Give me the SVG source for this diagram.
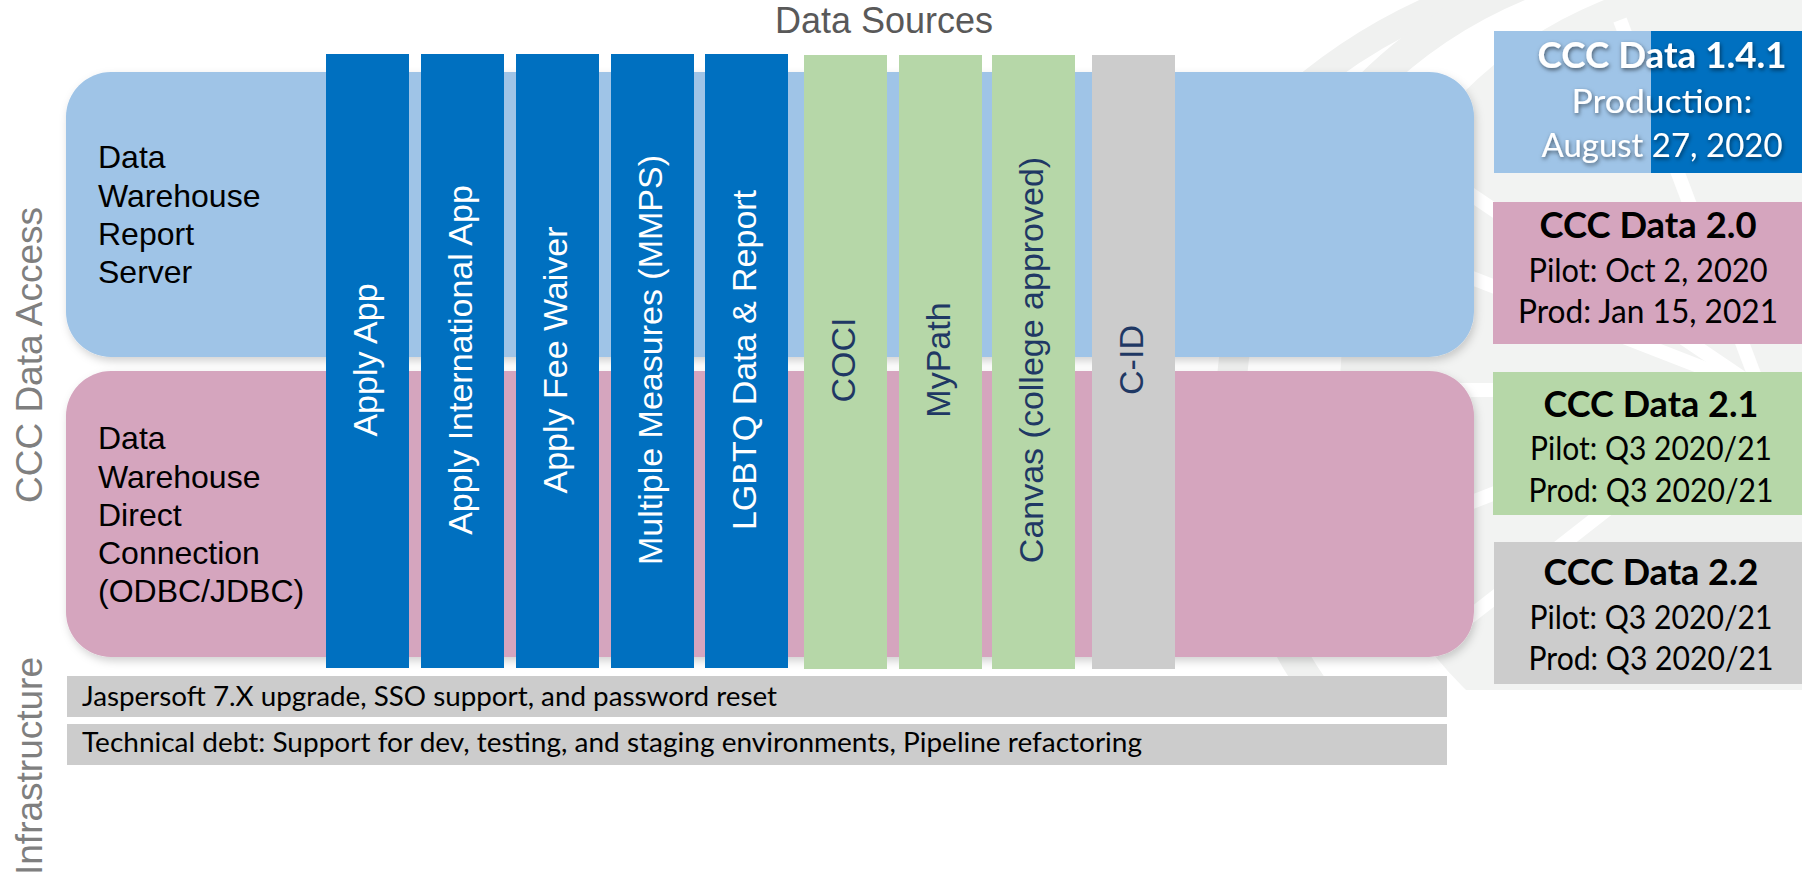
<svg xmlns="http://www.w3.org/2000/svg" width="1802" height="877" viewBox="0 0 1802 877">
<defs>
<style>
.lbl{font-family:"Liberation Sans",Arial,sans-serif;font-size:32px;fill:#000}
.side{font-family:"Liberation Sans",Arial,sans-serif;font-size:37px;fill:#7F7F7F}
.vt{font-family:"Liberation Sans",Arial,sans-serif;font-size:34px;text-anchor:middle}
.vw{fill:#FFFFFF}
.vn{fill:#1F3864}
.blue{fill:#0070C0}
.green{fill:#B6D7A8}
.grey{fill:#CCCCCC}
.infra{font-family:"Lato","Noto Sans",sans-serif;font-size:27px;fill:#000}
.rt{font-family:"Lato","Noto Sans",sans-serif;text-anchor:middle}
.rtitle{font-size:37px;font-weight:bold}
.rline{font-size:32px}
.wm{fill:none;stroke:#F0F1F0}
</style>
<clipPath id="wmclip"><rect x="1140" y="0" width="662" height="690"/></clipPath>
<filter id="sh" x="-5%" y="-10%" width="110%" height="125%">
<feDropShadow dx="2" dy="4" stdDeviation="4" flood-color="#000" flood-opacity="0.18"/>
</filter>
<filter id="tsh" x="-10%" y="-30%" width="120%" height="160%">
<feDropShadow dx="1" dy="2" stdDeviation="2" flood-color="#000" flood-opacity="0.55"/>
</filter>
</defs>
<rect width="1802" height="877" fill="#FFFFFF"/>
<g id="watermark" clip-path="url(#wmclip)">
<circle class="wm" cx="1660" cy="520" r="560" stroke-width="26"/>
<circle class="wm" cx="1700" cy="420" r="470" stroke-width="30"/>
<circle cx="1760" cy="390" r="420" fill="#F2F3F2"/>
<g stroke="#FFFFFF" stroke-width="14" fill="none">
<path d="M1760 390 L1400 250"/>
<path d="M1760 390 L1420 160"/>
<path d="M1760 390 L1380 390"/>
<path d="M1760 390 L1400 530"/>
<path d="M1760 390 L1440 640"/>
<path d="M1760 390 L1620 20"/>
</g>
</g>
<text id="title" x="884" y="33" font-family="Liberation Sans, Arial, sans-serif" font-size="36" fill="#595959" text-anchor="middle">Data Sources</text>
<text id="side-access" class="side" text-anchor="middle" transform="translate(42,355) rotate(-90)">CCC Data Access</text>
<text id="side-infra" class="side" text-anchor="middle" transform="translate(42,766) rotate(-90)">Infrastructure</text>
<g id="report-server">
<rect x="66" y="72" width="1408" height="285" rx="45" ry="45" fill="#9FC4E7" filter="url(#sh)"/>
<text class="lbl" x="98" y="168">Data</text>
<text class="lbl" x="98" y="207">Warehouse</text>
<text class="lbl" x="98" y="245">Report</text>
<text class="lbl" x="98" y="283">Server</text>
</g>
<g id="direct-connection">
<rect x="66" y="371" width="1408" height="286" rx="45" ry="45" fill="#D5A5BE" filter="url(#sh)"/>
<text class="lbl" x="98" y="449">Data</text>
<text class="lbl" x="98" y="488">Warehouse</text>
<text class="lbl" x="98" y="526">Direct</text>
<text class="lbl" x="98" y="564">Connection</text>
<text class="lbl" x="98" y="602">(ODBC/JDBC)</text>
</g>
<g id="apply-app"><rect class="blue" x="326" y="54" width="83" height="614"/><text class="vt vw" transform="translate(377,360) rotate(-90)">Apply App</text></g>
<g id="apply-intl"><rect class="blue" x="421" y="54" width="83" height="614"/><text class="vt vw" transform="translate(472,360) rotate(-90)">Apply International App</text></g>
<g id="apply-fee"><rect class="blue" x="516" y="54" width="83" height="614"/><text class="vt vw" transform="translate(567,360) rotate(-90)">Apply Fee Waiver</text></g>
<g id="mmps"><rect class="blue" x="611" y="54" width="83" height="614"/><text class="vt vw" transform="translate(662,360) rotate(-90)">Multiple Measures (MMPS)</text></g>
<g id="lgbtq"><rect class="blue" x="705" y="54" width="83" height="614"/><text class="vt vw" transform="translate(756,360) rotate(-90)">LGBTQ Data &amp; Report</text></g>
<g id="coci"><rect class="green" x="804" y="55" width="83" height="614"/><text class="vt vn" transform="translate(855,360) rotate(-90)">COCI</text></g>
<g id="mypath"><rect class="green" x="899" y="55" width="83" height="614"/><text class="vt vn" transform="translate(950,360) rotate(-90)">MyPath</text></g>
<g id="canvas"><rect class="green" x="992" y="55" width="83" height="614"/><text class="vt vn" transform="translate(1043,360) rotate(-90)">Canvas (college approved)</text></g>
<g id="cid"><rect class="grey" x="1092" y="55" width="83" height="614"/><text class="vt vn" transform="translate(1143,360) rotate(-90)">C-ID</text></g>
<g id="infra-1"><rect class="grey" x="67" y="676" width="1380" height="41"/><text class="infra" x="82" y="706" textLength="695" lengthAdjust="spacingAndGlyphs">Jaspersoft 7.X upgrade, SSO support, and password reset</text></g>
<g id="infra-2"><rect class="grey" x="67" y="724" width="1380" height="41"/><text class="infra" x="82" y="752" textLength="1060" lengthAdjust="spacingAndGlyphs">Technical debt: Support for dev, testing, and staging environments, Pipeline refactoring</text></g>
<g id="v141">
<rect x="1494" y="31" width="157" height="142" fill="#9FC4E7"/>
<rect x="1651" y="31" width="151" height="142" fill="#0070C0"/>
<g class="rt" fill="#FFFFFF" filter="url(#tsh)">
<text class="rtitle" x="1662" y="68" textLength="249" lengthAdjust="spacingAndGlyphs">CCC Data 1.4.1</text>
<text class="rline" x="1662" y="113" textLength="181" lengthAdjust="spacingAndGlyphs">Production:</text>
<text class="rline" x="1662" y="157" textLength="241" lengthAdjust="spacingAndGlyphs">August 27, 2020</text>
</g>
</g>
<g id="v20">
<rect x="1493" y="202" width="309" height="142" fill="#D5A5BE"/>
<g class="rt" fill="#000">
<text class="rtitle" x="1648" y="238" textLength="217" lengthAdjust="spacingAndGlyphs">CCC Data 2.0</text>
<text class="rline" x="1648" y="282" textLength="239" lengthAdjust="spacingAndGlyphs">Pilot: Oct 2, 2020</text>
<text class="rline" x="1648" y="323" textLength="260" lengthAdjust="spacingAndGlyphs">Prod: Jan 15, 2021</text>
</g>
</g>
<g id="v21">
<rect x="1493" y="372" width="309" height="143" fill="#B6D7A8"/>
<g class="rt" fill="#000">
<text class="rtitle" x="1651" y="417" textLength="215" lengthAdjust="spacingAndGlyphs">CCC Data 2.1</text>
<text class="rline" x="1651" y="460" textLength="242" lengthAdjust="spacingAndGlyphs">Pilot: Q3 2020/21</text>
<text class="rline" x="1651" y="502" textLength="245" lengthAdjust="spacingAndGlyphs">Prod: Q3 2020/21</text>
</g>
</g>
<g id="v22">
<rect x="1494" y="542" width="308" height="142" fill="#CCCCCC"/>
<g class="rt" fill="#000">
<text class="rtitle" x="1651" y="585" textLength="215" lengthAdjust="spacingAndGlyphs">CCC Data 2.2</text>
<text class="rline" x="1651" y="629" textLength="243" lengthAdjust="spacingAndGlyphs">Pilot: Q3 2020/21</text>
<text class="rline" x="1651" y="670" textLength="245" lengthAdjust="spacingAndGlyphs">Prod: Q3 2020/21</text>
</g>
</g>
<g id="connectors"></g>
</svg>
